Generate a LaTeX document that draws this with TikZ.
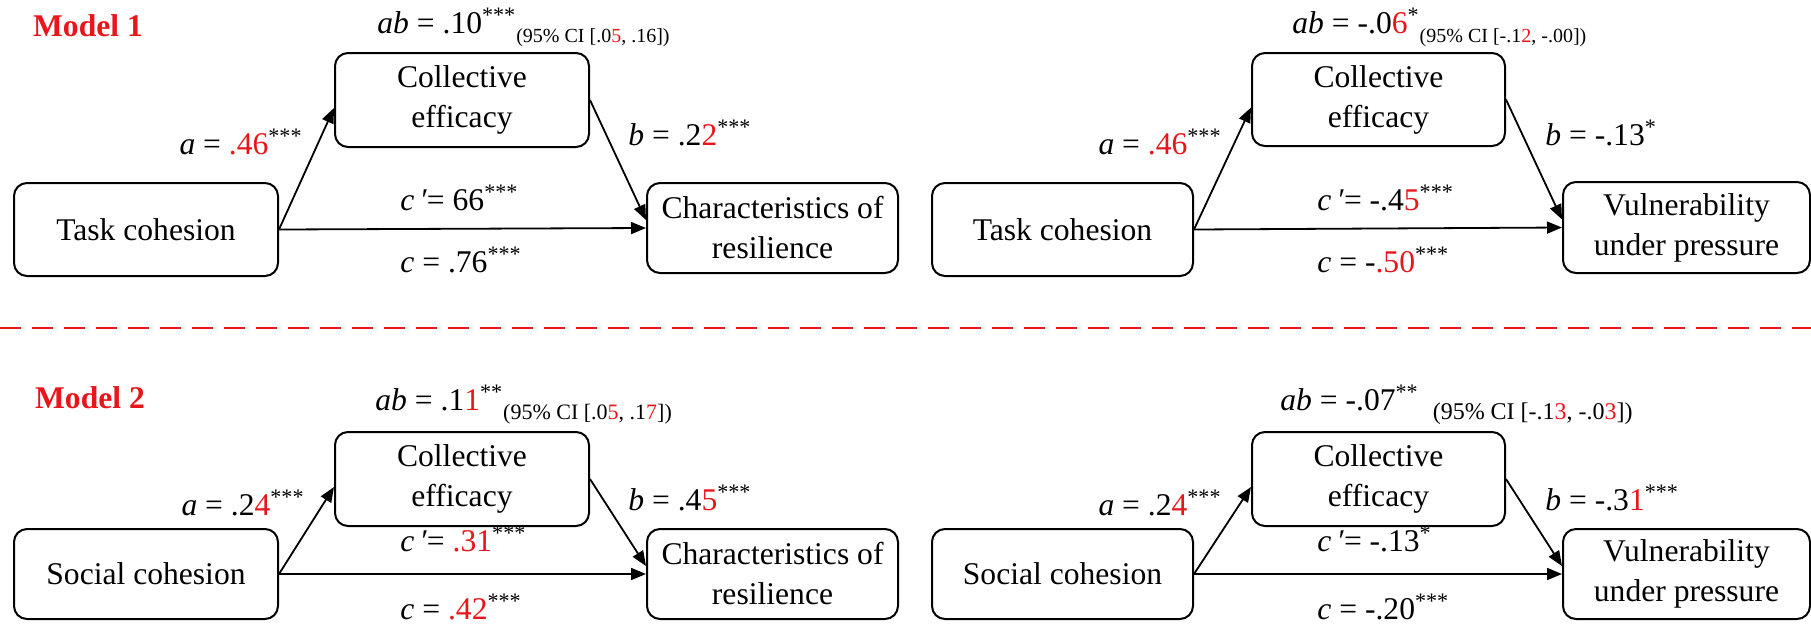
\documentclass[tikz,border=0pt]{standalone}
\usepackage{fontspec}
\setmainfont{Liberation Serif}
\usetikzlibrary{arrows.meta,calc}
\definecolor{hl}{RGB}{232,22,26}
\newcommand\rd[1]{\textcolor{hl}{#1}}
\newcommand\stars[1]{\textsuperscript{#1}}
\newcommand\cinote[2][10]{\raisebox{-4.5pt}{\fontsize{#1}{12}\selectfont(95\% CI [#2])}}
\newcommand\cpr{\textit{c}\,\textit{\char"2032}}
\begin{document}
\begin{tikzpicture}[x=0.5pt,y=-0.5pt,
  box/.style={draw, rounded corners=6.5pt, line width=1pt, align=center,
    font=\fontsize{15.8}{20}\selectfont, inner sep=0pt},
  lbl/.style={font=\fontsize{15.8}{19}\selectfont, inner sep=0pt},
  arr/.style={-{Triangle[length=7.5pt,width=6pt]}, line width=0.9pt},
  ttl/.style={font=\fontsize{15.8}{19}\selectfont\bfseries, text=hl, inner sep=0pt}]
\useasboundingbox (0,0) rectangle (1811,623);

% ---------- Model 1, left ----------
\node[ttl] (M1) at (88,26) {Model 1};
\node[box, minimum width=127pt, minimum height=47pt] (CE1) at (462,100) {Collective\\efficacy};
\node[box, minimum width=132pt, minimum height=46.5pt] (TC1) at (146,229.5) {Task cohesion};
\node[box, minimum width=125.5pt, minimum height=45pt] (CR1) at (772.5,228) {Characteristics of\\resilience};
\draw[arr] (TC1.east) -- ([yshift=-4pt]CE1.west);
\draw[arr] (CE1.east) -- ([yshift=4pt]CR1.west);
\draw[arr] (TC1.east) -- (CR1.west);
\node[lbl, anchor=base west] (ab1) at (377,33) {\textit{ab} = .10\stars{***}\cinote{.0\rd{5}, .16}};
\node[lbl, anchor=base east] (a1) at (303,154) {\textit{a} = \rd{.46}\stars{***}};
\node[lbl, anchor=base west] (b1) at (628,145) {\textit{b} = .2\rd{2}\stars{***}};
\node[lbl, anchor=base west] (cp1) at (400,210) {\cpr= 66\stars{***}};
\node[lbl, anchor=base west] (c1) at (400,272) {\textit{c} = .76\stars{***}};

% ---------- Model 1, right ----------
\node[box, minimum width=126.5pt, minimum height=46.5pt] (CE2) at (1378.5,99.5) {Collective\\efficacy};
\node[box, minimum width=130.5pt, minimum height=46.5pt] (TC2) at (1062.5,229.5) {Task cohesion};
\node[box, minimum width=123.5pt, minimum height=45.5pt] (VP2) at (1686.5,227.5) {Vulnerability\\under pressure};
\draw[arr] (TC2.east) -- ([yshift=-4pt]CE2.west);
\draw[arr] (CE2.east) -- ([yshift=4pt]VP2.west);
\draw[arr] (TC2.east) -- (VP2.west);
\node[lbl, anchor=base west] (ab2) at (1292,33) {\textit{ab} = -.0\rd{6}\stars{*}\cinote{-.1\rd{2}, -.00}};
\node[lbl, anchor=base east] (a2) at (1222,154) {\textit{a} = \rd{.46}\stars{***}};
\node[lbl, anchor=base west] (b2) at (1545,145) {\textit{b} = -.13\stars{*}};
\node[lbl, anchor=base west] (cp2) at (1317,210) {\cpr= -.4\rd{5}\stars{***}};
\node[lbl, anchor=base west] (c2) at (1317,272) {\textit{c} = -\rd{.50}\stars{***}};

% ---------- separator ----------
\coordinate (sepL) at (0,328);
\coordinate (sepR) at (1811,328);
\draw[hl, line width=1.2pt, dash pattern=on 10.5pt off 5.5pt] (sepL) -- (sepR);

% ---------- Model 2, left ----------
\node[ttl] (M2) at (90,398) {Model 2};
\node[box, minimum width=127pt, minimum height=47pt] (CE3) at (462,479) {Collective\\efficacy};
\node[box, minimum width=132pt, minimum height=45pt] (SC3) at (146,574) {Social cohesion};
\node[box, minimum width=125.5pt, minimum height=45pt] (CR3) at (772.5,574) {Characteristics of\\resilience};
\draw[arr] (SC3.east) -- ([yshift=-4pt]CE3.west);
\draw[arr] (CE3.east) -- ([yshift=4pt]CR3.west);
\draw[arr] (SC3.east) -- (CR3.west);
\node[lbl, anchor=base west] (ab3) at (375,410) {\textit{ab} = .1\rd{1}\stars{**}\cinote[11]{.0\rd{5}, .1\rd{7}}};
\node[lbl, anchor=base east] (a3) at (305,515) {\textit{a} = .2\rd{4}\stars{***}};
\node[lbl, anchor=base west] (b3) at (628,510) {\textit{b} = .4\rd{5}\stars{***}};
\node[lbl, anchor=base west] (cp3) at (400,551) {\cpr= \rd{.31}\stars{***}};
\node[lbl, anchor=base west] (c3) at (400,619) {\textit{c} = \rd{.42}\stars{***}};

% ---------- Model 2, right ----------
\node[box, minimum width=126.5pt, minimum height=47pt] (CE4) at (1378.5,479) {Collective\\efficacy};
\node[box, minimum width=130.5pt, minimum height=45pt] (SC4) at (1062.5,574) {Social cohesion};
\node[box, minimum width=123.5pt, minimum height=45pt] (VP4) at (1686.5,574) {Vulnerability\\under pressure};
\draw[arr] (SC4.east) -- ([yshift=-4pt]CE4.west);
\draw[arr] (CE4.east) -- ([yshift=4pt]VP4.west);
\draw[arr] (SC4.east) -- (VP4.west);
\node[lbl, anchor=base west] (ab4) at (1280,410) {\textit{ab} = -.07\stars{**}\hspace{7pt}\cinote[12]{-.1\rd{3}, -.0\rd{3}}};
\node[lbl, anchor=base east] (a4) at (1222,515) {\textit{a} = .2\rd{4}\stars{***}};
\node[lbl, anchor=base west] (b4) at (1545,510) {\textit{b} = -.3\rd{1}\stars{***}};
\node[lbl, anchor=base west] (cp4) at (1317,551) {\cpr= -.13\stars{*}};
\node[lbl, anchor=base west] (c4) at (1317,619) {\textit{c} = -.20\stars{***}};
\end{tikzpicture}
\end{document}
